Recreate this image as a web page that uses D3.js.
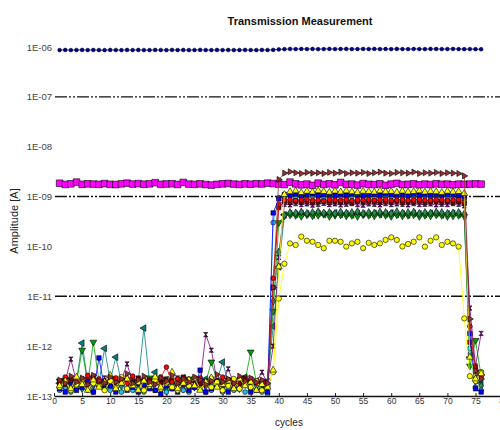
<!DOCTYPE html>
<html><head><meta charset="utf-8">
<script src="https://cdn.jsdelivr.net/npm/d3@7"></script>
<style>body{margin:0;background:#fff} svg{display:block;font-family:"Liberation Sans",Arial,sans-serif}</style>
</head><body><svg id="c" width="500" height="430"></svg>
<script>
// All values in pA (1e-12 A)
const cycles=[1,2,3,4,5,6,7,8,9,10,11,12,13,14,15,16,17,18,19,20,21,22,23,24,25,26,27,28,29,30,31,32,33,34,35,36,37,38,39,40,41,42,43,44,45,46,47,48,49,50,51,52,53,54,55,56,57,58,59,60,61,62,63,64,65,66,67,68,69,70,71,72,73,74,75,76];
const xTicks=[0,5,10,15,20,25,30,35,40,45,50,55,60,65,70,75,80];
const yTicks=[1e-13,1e-12,1e-11,1e-10,1e-9,1e-8,1e-7,1e-6];
const gridDecades=[1e-7,1e-9,1e-11];

const navy=[868e3,872e3,866e3,870e3,874e3,867e3,871e3,869e3,865e3,873e3,870e3,866e3,872e3,868e3,874e3,869e3,867e3,871e3,870e3,866e3,873e3,869e3,871e3,867e3,870e3,874e3,868e3,866e3,872e3,869e3,871e3,867e3,870e3,873e3,868e3,866e3,872e3,870e3,875e3,
895e3,905e3,912e3,908e3,915e3,910e3,913e3,907e3,911e3,916e3,909e3,912e3,914e3,908e3,911e3,913e3,910e3,915e3,909e3,912e3,907e3,914e3,911e3,909e3,913e3,910e3,908e3,915e3,912e3,909e3,911e3,914e3,910e3,906e3,909e3,905e3,902e3];
const magenta=[1850,1750,1800,1950,1760,1800,1780,1760,1820,1760,1740,1800,1860,1780,1820,1770,1800,1900,1760,1790,1810,1750,1920,1780,1760,1800,1740,1700,1760,1800,1830,1780,1750,1800,1770,1810,1790,1860,1820,1780,1740,1950,1800,1720,1780,1680,1860,1750,1800,1720,1920,1760,1780,1700,1820,1760,1740,1800,1680,1780,1840,1740,1760,1800,1720,1780,1740,1800,1760,1780,1720,1780,1760,1780,1800,1780];
const brown=[0.21,0.18,0.25,0.19,0.23,0.17,0.26,0.2,0.18,0.24,0.19,0.22,0.28,0.18,0.21,0.25,0.19,0.17,0.23,0.2,0.26,0.18,0.22,0.19,0.24,0.21,0.17,0.2,0.27,0.19,0.22,0.18,0.25,0.2,0.23,0.19,0.21,0.18,
15,2200,2950,3150,3000,2900,3050,2950,3000,2900,3050,2950,3100,2900,3000,2950,3050,2900,3000,3100,2950,2900,3050,3000,2950,3100,2900,3000,2950,3050,2900,3000,2950,2900,2600,3.5,0.32,0.22];
const yellowTri=[0.16,0.2,0.14,0.24,0.17,0.13,0.21,0.15,0.19,0.26,0.14,0.18,0.22,0.16,0.13,0.2,0.17,0.24,0.15,0.19,0.3,0.14,0.18,0.21,0.16,0.13,0.19,0.23,0.15,0.17,0.2,0.14,0.22,0.16,0.19,0.13,0.17,0.15,
0.33,39,1100,1250,1300,1200,1280,1230,1310,1260,1220,1290,1240,1300,1250,1210,1280,1260,1230,1300,1250,1270,1220,1290,1240,1260,1300,1230,1270,1250,1210,1280,1240,1260,1150,0.6,0.22,0.28];
const blue=[0.14,0.12,0.17,0.13,0.15,0.19,0.12,0.58,0.14,0.16,0.12,0.18,0.13,0.15,0.12,0.17,0.14,0.13,0.11,0.16,0.14,0.12,0.18,0.13,0.15,0.33,0.12,0.14,0.16,0.13,0.12,0.15,0.14,0.17,0.12,0.13,0.15,0.12,
470,900,1100,1080,1120,1050,1100,1130,1070,1090,1110,1060,1100,1080,1120,1090,1050,1100,1110,1070,1130,1090,1080,1100,1060,1120,1090,1100,1070,1110,1080,1100,1090,1060,1000,1.8,0.14,0.12];
const cyan=[0.13,0.15,0.12,0.14,0.17,0.13,0.12,0.16,0.14,0.13,0.15,0.12,0.19,0.13,0.14,0.12,0.16,0.13,0.15,0.12,0.14,0.17,0.13,0.12,0.15,0.14,0.12,0.13,0.16,0.12,0.14,0.13,0.15,0.12,0.14,0.16,0.12,0.11,
300,950,990,1010,970,1000,980,1020,990,960,1000,980,1010,970,990,1020,980,1000,960,990,1010,980,1000,970,990,1010,980,1000,970,990,1010,980,960,990,900,0.9,0.15,0.13];
const red=[0.19,0.24,0.17,0.21,0.2,0.26,0.18,0.22,0.19,0.17,0.23,0.2,0.18,0.25,0.19,0.21,0.17,0.2,0.24,0.38,0.19,0.22,0.18,0.2,0.17,0.23,0.19,0.21,0.18,0.24,0.2,0.17,0.22,0.19,0.21,0.18,0.2,0.17,
23,700,850,870,830,860,880,840,850,820,870,850,840,880,830,860,850,870,840,860,880,830,850,870,840,860,880,850,830,870,860,840,850,870,780,2.5,0.3,0.24];
const maroon=[0.2,0.17,0.22,0.19,0.18,0.21,0.24,0.18,0.2,0.17,0.22,0.19,0.2,0.18,0.23,0.17,0.21,0.19,0.18,0.22,0.2,0.19,0.24,0.17,0.21,0.18,0.2,0.22,0.19,0.17,0.21,0.2,0.18,0.23,0.19,0.2,0.18,0.16,
15,600,780,760,800,770,790,750,780,800,760,790,770,780,750,800,770,790,780,760,790,770,800,760,780,770,790,760,780,800,770,790,760,780,720,1.2,0.38,0.3];
const purple=[0.18,0.2,0.55,0.19,0.22,0.17,0.2,0.18,0.23,0.19,0.17,0.21,0.44,0.19,0.18,0.2,0.17,0.22,0.19,0.18,0.2,0.23,0.17,0.19,0.21,0.18,1.7,0.83,0.2,0.19,0.35,0.18,0.2,0.17,0.22,0.19,0.3,0.18,
1.0,60,700,680,720,690,710,670,700,730,690,710,680,700,720,690,670,710,700,680,720,690,710,700,680,720,690,700,710,680,700,690,720,700,650,5.8,0.4,1.8];
const seaGreen=[0.17,0.15,0.19,0.16,0.14,0.18,0.16,0.2,0.15,0.17,0.14,0.16,0.18,0.15,0.17,0.14,0.16,0.19,0.15,0.13,0.17,0.16,0.14,0.18,0.15,0.17,0.16,0.14,0.19,0.15,0.16,0.18,0.14,0.17,0.15,0.16,0.14,0.15,
8,77,420,480,470,490,460,480,500,470,480,460,490,470,480,500,460,480,470,490,480,460,500,470,480,490,460,480,470,490,480,460,470,480,450,0.7,0.2,0.16];
const teal=[0.18,0.22,0.17,0.2,1.15,0.19,0.24,0.18,0.9,0.2,0.6,0.19,0.17,0.22,0.2,2.3,0.19,0.3,0.17,0.21,0.19,0.18,0.23,0.17,0.2,0.19,0.22,0.18,0.2,0.48,0.19,0.17,0.21,0.24,0.18,0.2,0.17,0.19,
2.5,39,430,450,440,460,450,430,460,440,450,470,440,450,430,460,450,440,460,440,450,470,440,450,430,460,450,440,460,450,430,450,460,440,420,0.6,0.23,0.18];
const green=[0.2,0.17,0.21,0.19,0.83,0.18,1.2,0.2,0.17,0.22,0.19,0.18,0.21,0.17,0.2,0.19,0.23,0.18,0.2,0.17,0.21,0.19,0.18,0.22,0.2,0.17,0.19,0.48,0.2,0.18,0.21,0.19,0.17,0.2,0.76,0.19,0.18,0.2,
5,300,410,430,420,400,430,410,420,440,400,420,430,410,420,400,430,420,410,440,420,400,430,410,420,430,400,420,410,430,420,400,410,420,400,0.4,1.3,0.25];
const yellowCirc=[0.15,0.19,0.13,0.17,0.22,0.14,0.18,0.16,0.13,0.2,0.15,0.24,0.14,0.17,0.19,0.13,0.16,0.21,0.14,0.18,0.15,0.13,0.2,0.16,0.23,0.14,0.17,0.15,0.19,0.13,0.16,0.22,0.14,0.18,0.15,0.2,0.13,0.16,
0.3,9,45,115,107,157,130,124,107,92,130,130,124,99,115,124,92,118,107,115,135,152,135,100,112,124,152,99,130,152,107,124,115,99,3.6,0.25,0.2,0.3];

const PA=1e-12;
const W=500,H=430;
const svg=d3.select("#c");
const x=d3.scaleLinear().domain([0,80]).range([54,503.6]);
const y=d3.scaleLog().domain([1e-13,1e-6]).range([396,47]);

const hourglass={draw(ctx,size){const r=Math.sqrt(size)/2;ctx.moveTo(-r,-r);ctx.lineTo(r,-r);ctx.lineTo(-r,r);ctx.lineTo(r,r);ctx.closePath();}};
const series=[
 {v:navy,color:"#000080",sym:d3.symbolCircle,size:11,rot:0,edge:"#000040"},
 {v:magenta,color:"#ff00ff",sym:d3.symbolSquare,size:44,rot:0,edge:"#000"},
 {v:teal,color:"#008080",sym:d3.symbolTriangle,size:20,rot:-90,edge:"#000"},
 {v:green,color:"#00a000",sym:d3.symbolTriangle,size:20,rot:180,edge:"#000"},
 {v:seaGreen,color:"#2e8b57",sym:d3.symbolDiamond,size:18,rot:0,edge:"#000"},
 {v:purple,color:"#800080",sym:hourglass,size:18,rot:0,edge:"#000"},
 {v:cyan,color:"#20c0f0",sym:d3.symbolCircle,size:18,rot:0,edge:"#000"},
 {v:maroon,color:"#800000",sym:d3.symbolSquare,size:18,rot:0,edge:"#000"},
 {v:red,color:"#ff0000",sym:d3.symbolCircle,size:18,rot:0,edge:"#000"},
 {v:blue,color:"#0000ff",sym:d3.symbolSquare,size:20,rot:0,edge:"#000"},
 {v:yellowCirc,color:"#ffff00",sym:d3.symbolCircle,size:22,rot:0,edge:"#000"},
 {v:yellowTri,color:"#ffff00",sym:d3.symbolTriangle,size:20,rot:0,edge:"#000"},
 {v:brown,color:"#993030",sym:d3.symbolTriangle,size:16,rot:90,edge:"#000"}
];

svg.append("g").selectAll("line").data(gridDecades).join("line")
 .attr("x1",55).attr("x2",W).attr("y1",d=>y(d)).attr("y2",d=>y(d))
 .attr("stroke","#111").attr("stroke-width",1.4).attr("stroke-dasharray","12,2,2,2,2,2");

const xa=svg.append("g").attr("transform",`translate(0,${y(1e-13)})`)
 .call(d3.axisBottom(x).tickValues(xTicks).tickSizeInner(-3).tickSizeOuter(0).tickPadding(2).tickFormat(d3.format("d")));
xa.select(".domain").attr("stroke","#111").attr("stroke-width",1.6);
xa.selectAll(".tick line").attr("stroke","#222");
xa.selectAll("text").attr("font-size",8.5).attr("fill","#333").attr("font-family","Liberation Sans,Arial,sans-serif");

const fmt=d=>"1E-"+String(-Math.round(Math.log10(d))).padStart(2,"0");
const ya=svg.append("g").attr("transform","translate(55,0)")
 .call(d3.axisLeft(y).tickValues(yTicks).tickSize(0).tickPadding(3).tickFormat(fmt));
ya.select(".domain").remove();
ya.selectAll("text").attr("font-size",9.5).attr("fill","#444").attr("font-family","Liberation Sans,Arial,sans-serif");

const line=d3.line().x(d=>x(d[0])).y(d=>y(d[1]*PA));
series.forEach(s=>{
 const pts=s.v.map((v,i)=>[cycles[i],v]);
 const g=svg.append("g");
 g.append("path").attr("d",line(pts)).attr("fill","none").attr("stroke",s.color).attr("stroke-width",0.8);
 const sym=d3.symbol().type(s.sym).size(s.size);
 g.selectAll("path.m").data(pts).join("path").attr("class","m")
  .attr("d",sym).attr("transform",d=>`translate(${x(d[0])},${y(d[1]*PA)}) rotate(${s.rot})`)
  .attr("fill",s.color).attr("stroke",s.edge).attr("stroke-width",0.6);
});

svg.append("text").attr("x",300).attr("y",25).attr("text-anchor","middle")
 .attr("font-size",11).attr("font-weight","bold").attr("fill","#111").text("Transmission Measurement");
svg.append("text").attr("transform","translate(18,221) rotate(-90)").attr("text-anchor","middle")
 .attr("font-size",11).attr("fill","#222").text("Amplitude [A]");
svg.append("text").attr("x",289).attr("y",426).attr("text-anchor","middle")
 .attr("font-size",10).attr("fill","#222").text("cycles");
</script></body></html>
